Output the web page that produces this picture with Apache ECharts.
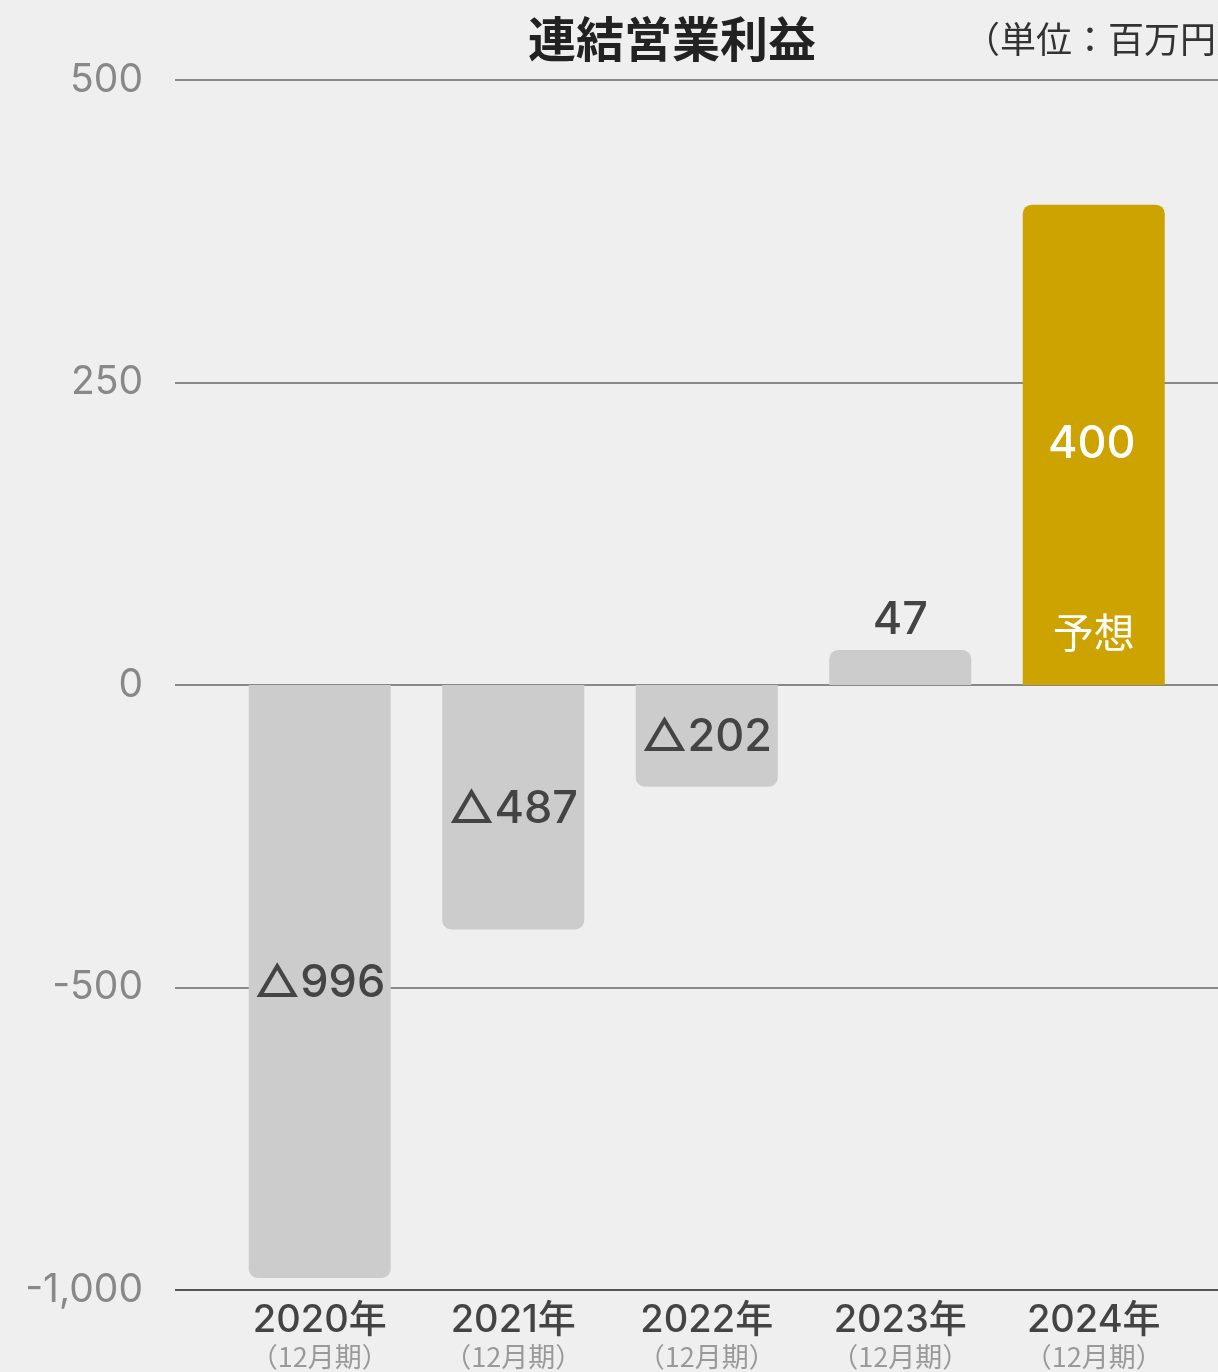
<!DOCTYPE html>
<html><head><meta charset="utf-8">
<script src="https://cdn.jsdelivr.net/npm/echarts@6/dist/echarts.min.js"></script>
<style>html,body{margin:0;padding:0;background:#efefef;}#c{width:1218px;height:1372px;}</style>
</head><body><div id="c"></div>
<script>
// categories
const years = ['2020年','2021年','2022年','2023年','2024年'];
const periods = ['（12月期）','（12月期）','（12月期）','（12月期）','（12月期）'];
// reported values (百万円)
const reported = [-996, -487, -202, 47, 400];
const valueLabels = ['△996','△487','△202','47','400'];
// bar heights as drawn in the picture (chart is not to scale on the negative side)
const drawnHeights = [-490, -202, -84, 29, 397];
// y axis tick positions and their printed labels
const tickPos = [-500, -250, 0, 250, 500];
const tickLabels = ['-1,000', '-500', '0', '250', '500'];
const forecastFlags = [false, false, false, false, true];

const CJK = '"Noto Sans CJK JP","Noto Sans",sans-serif';
const NUM = 'Inter,"Noto Sans CJK JP",sans-serif';
const chart = echarts.init(document.getElementById('c'), null, {renderer:'canvas'});

const barData = drawnHeights.map((v, i) => {
  const neg = v < 0;
  const forecast = forecastFlags[i];
  let label;
  if (forecast) label = {position:'inside', color:'#ffffff', fontSize:45, offset:[-2,0]};
  else if (v < 0) label = {position:'inside', color:'#444444', fontSize:45, offset:[0,2]};
  else label = {position:'top', distance:7, color:'#444444', fontSize:45};
  return {
    value: v,
    itemStyle: {
      color: forecast ? '#cca300' : '#cccccc',
      borderRadius: neg ? [0,0,9,9] : [9,9,0,0]
    },
    label: Object.assign({show:true, fontFamily:NUM, fontWeight:500, formatter: valueLabels[i]}, label)
  };
});

const noteData = drawnHeights.map((v, i) => ({
  value: v,
  label: {show: forecastFlags[i], formatter:'予想', position:'insideBottom', distance:32,
          color:'#ffffff', fontSize:41, fontFamily:CJK}
}));

chart.setOption({
  backgroundColor:'#efefef',
  animation:false,
  textStyle:{fontFamily:CJK},
  title:[
    {text:'連結営業利益', left:667, top:10, textAlign:'center',
     textStyle:{fontSize:48, fontWeight:'bold', color:'#222222', fontFamily:CJK}},
    {text:'（単位：百万円）', left:959, top:16,
     textStyle:{fontSize:36, fontWeight:'normal', color:'#333333', fontFamily:CJK}}
  ],
  grid:[
    {left:175, right:-60, top:80, bottom:82},
    {left:223, width:967.5, top:80, bottom:82}
  ],
  xAxis:[
    {gridIndex:0, type:'category', data:years, show:false},
    {gridIndex:1, type:'category', data:years,
     axisLine:{show:false}, axisTick:{show:false},
     axisLabel:{margin:10, interval:0,
       formatter:(val, idx) => '{y|' + val + '}\n{p|' + periods[idx] + '}',
       rich:{
         y:{fontSize:38, color:'#444444', fontFamily:NUM, lineHeight:42, fontWeight:500},
         p:{fontSize:27, color:'#999999', fontFamily:CJK, lineHeight:30}
       }}}
  ],
  yAxis:[
    {gridIndex:0, type:'value', min:-500, max:500, interval:250,
     axisLine:{show:false}, axisTick:{show:false},
     axisLabel:{margin:32, fontSize:39, color:'#888888', fontFamily:NUM, padding:[6,0,0,0],
       formatter:(v) => tickLabels[tickPos.indexOf(v)]},
     splitLine:{show:true, lineStyle:{color:['#555555','#888888','#888888','#888888','#888888'], width:2}}},
    {gridIndex:1, type:'value', min:-500, max:500, interval:250, show:false,
     splitLine:{show:false}}
  ],
  series:[
    {type:'bar', xAxisIndex:1, yAxisIndex:1, data:barData, barWidth:142, z:3},
    {type:'bar', xAxisIndex:1, yAxisIndex:1, data:noteData, barWidth:142, barGap:'-100%',
     itemStyle:{color:'rgba(0,0,0,0)'}, z:4, silent:true}
  ]
});
</script></body></html>
